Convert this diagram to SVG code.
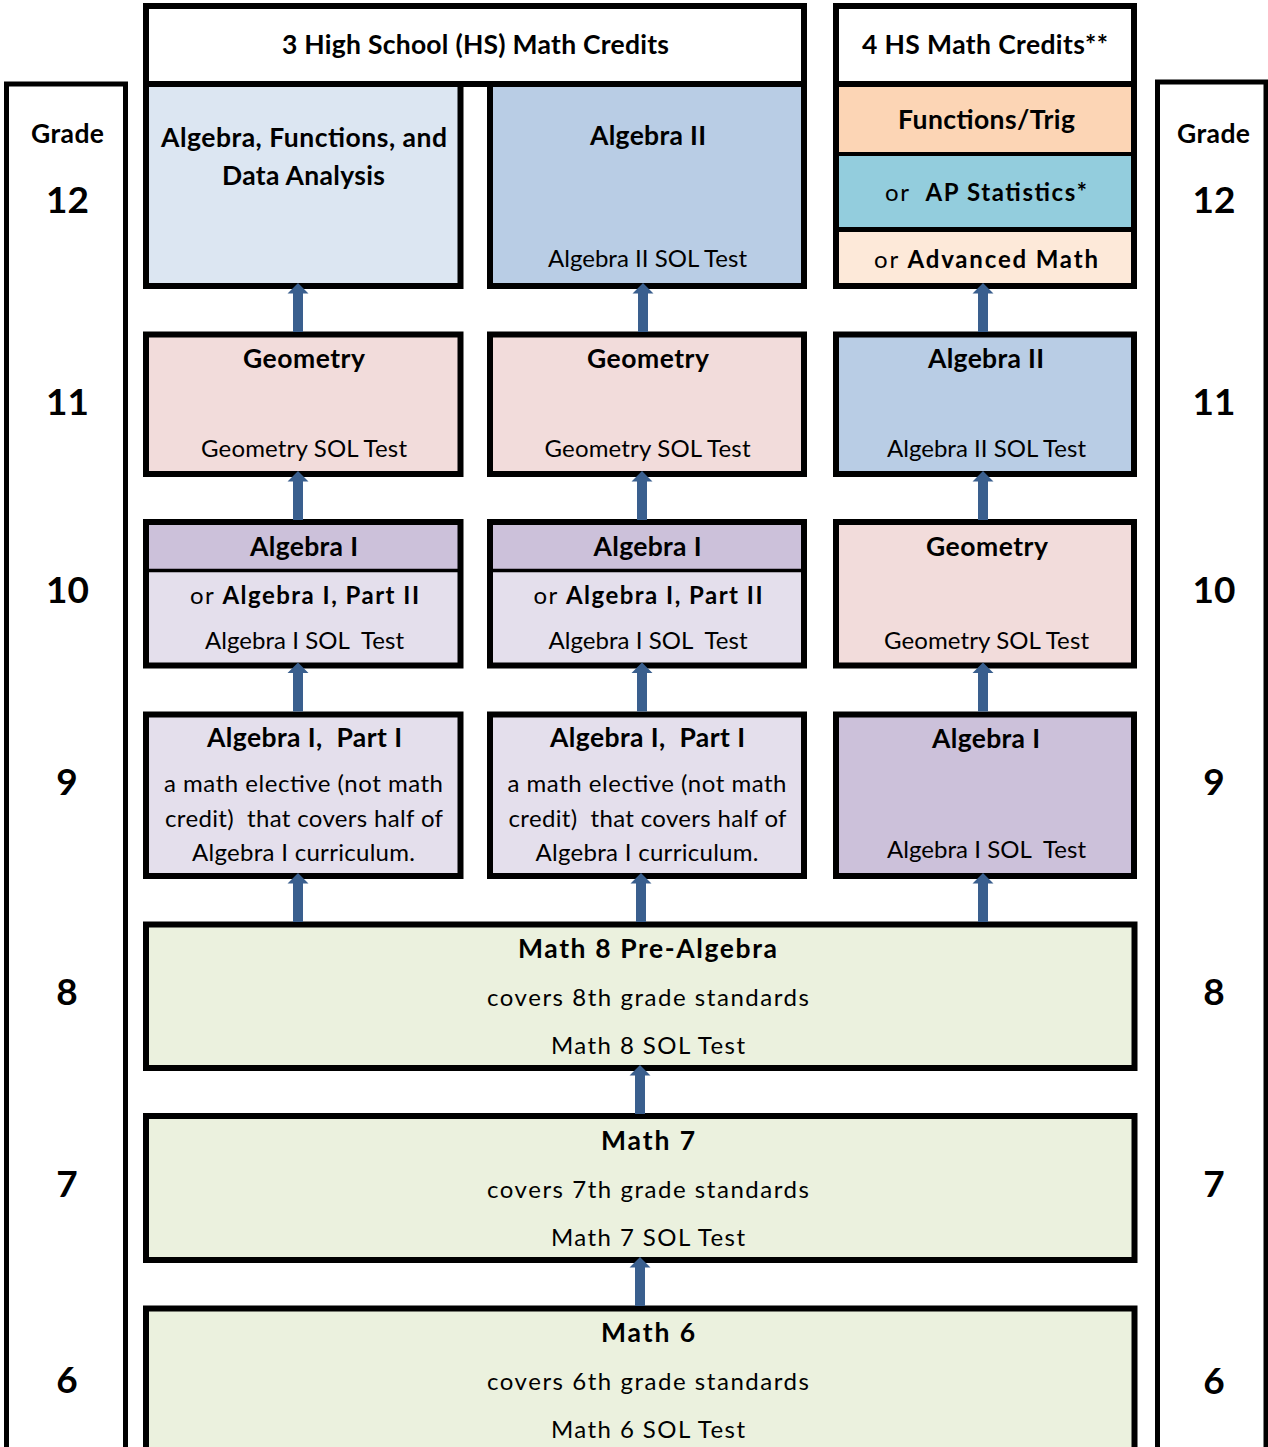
<svg xmlns="http://www.w3.org/2000/svg" xmlns:xlink="http://www.w3.org/1999/xlink" width="1268" height="1447" viewBox="0 0 1268 1447">
<style>
text{font-family:Lato,"Liberation Sans","DejaVu Sans",sans-serif;fill:#000;text-anchor:middle;white-space:pre}
.t{font-weight:700;font-size:26.5px}
.r{font-weight:400;font-size:24px}
.w{font-weight:700}
.n{font-weight:700;font-size:37px}
.box{stroke:#000;stroke-width:6}
.col{fill:none;stroke:#000;stroke-width:5}
.div{stroke:#000;fill:none}
.arrow{fill:#3A5F8E}
</style>
<defs>
<path id="arr" class="arrow" d="M0 0 L10.5 10.5 L5 10.5 L5 49 L-5 49 L-5 10.5 L-10.5 10.5 Z"/>
</defs>

<g id="grade-left">
<rect class="col" x="6.5" y="84" width="119" height="1400"/>
<text class="t" x="67.5" y="143" textLength="73">Grade</text>
<text class="n" x="67.5" y="213">12</text>
<text class="n" x="67.5" y="415">11</text>
<text class="n" x="67.5" y="603">10</text>
<text class="n" x="67" y="795">9</text>
<text class="n" x="67" y="1005">8</text>
<text class="n" x="67" y="1197">7</text>
<text class="n" x="67" y="1393">6</text>
</g>

<g id="grade-right">
<rect class="col" x="1157.5" y="82" width="108.5" height="1400"/>
<text class="t" x="1213.5" y="143" textLength="73">Grade</text>
<text class="n" x="1214" y="213">12</text>
<text class="n" x="1214" y="415">11</text>
<text class="n" x="1214" y="603">10</text>
<text class="n" x="1214" y="795">9</text>
<text class="n" x="1214" y="1005">8</text>
<text class="n" x="1214" y="1197">7</text>
<text class="n" x="1214" y="1394">6</text>
</g>

<g id="header-3credits">
<rect class="box" x="146" y="6" width="658" height="78" fill="#FFFFFF"/>
<text class="t" x="475.5" y="54" textLength="387">3 High School (HS) Math Credits</text>
</g>

<g id="header-4credits">
<rect class="box" x="836" y="6" width="298" height="78" fill="#FFFFFF"/>
<text class="t" x="985" y="54" textLength="246">4 HS Math Credits**</text>
</g>

<g id="afda">
<rect class="box" x="146" y="84" width="314.5" height="202" fill="#DCE6F2"/>
<text class="t" x="304" y="147" textLength="286">Algebra, Functions, and</text>
<text class="t" x="303.5" y="185" textLength="163">Data Analysis</text>
</g>

<g id="alg2-c2-g12">
<rect class="box" x="490" y="84" width="314" height="202" fill="#B9CDE5"/>
<text class="t" x="648" y="145" textLength="116">Algebra II</text>
<text class="r" x="647.5" y="267" textLength="199">Algebra II SOL Test</text>
</g>

<g id="g12-c3">
<rect x="836" y="84" width="298" height="70" fill="#FCD5B5"/>
<rect x="836" y="154" width="298" height="75.5" fill="#93CDDD"/>
<rect x="836" y="229.5" width="298" height="56.5" fill="#FDE9D9"/>
<line class="div" x1="836" y1="154" x2="1134" y2="154" stroke-width="4"/>
<line class="div" x1="836" y1="229.5" x2="1134" y2="229.5" stroke-width="5"/>
<rect class="box" x="836" y="84" width="298" height="202" fill="none"/>
<text class="t" x="986.5" y="129" textLength="177">Functions/Trig</text>
<text class="r" x="986" y="201" textLength="202">or  <tspan class="w">AP Statistics*</tspan></text>
<text class="r" x="986" y="268" textLength="224">or <tspan class="w">Advanced Math</tspan></text>
</g>

<g id="geom-c1-g11">
<rect class="box" x="146" y="334.5" width="314.5" height="139.5" fill="#F2DCDB"/>
<text class="t" x="304" y="368" textLength="122">Geometry</text>
<text class="r" x="304" y="457" textLength="206">Geometry SOL Test</text>
</g>

<g id="geom-c2-g11">
<rect class="box" x="490" y="334.5" width="314" height="139.5" fill="#F2DCDB"/>
<text class="t" x="648" y="368" textLength="122">Geometry</text>
<text class="r" x="647.5" y="457" textLength="206">Geometry SOL Test</text>
</g>

<g id="alg2-c3-g11">
<rect class="box" x="836" y="334.5" width="298" height="139.5" fill="#B9CDE5"/>
<text class="t" x="986" y="368" textLength="116">Algebra II</text>
<text class="r" x="986.5" y="457" textLength="199">Algebra II SOL Test</text>
</g>

<g id="alg1-c1-g10">
<rect x="146" y="522" width="314.5" height="48.5" fill="#CCC1DA"/>
<rect x="146" y="570.5" width="314.5" height="95" fill="#E4DFEC"/>
<line class="div" x1="146" y1="570.5" x2="460.5" y2="570.5" stroke-width="3.5"/>
<rect class="box" x="146" y="522" width="314.5" height="143.5" fill="none"/>
<text class="t" x="304" y="556" textLength="108">Algebra I</text>
<text class="r" x="304.5" y="604" textLength="229">or <tspan class="w">Algebra I, Part II</tspan></text>
<text class="r" x="304.5" y="649" textLength="199">Algebra I SOL  Test</text>
</g>

<g id="alg1-c2-g10">
<rect x="490" y="522" width="314" height="48.5" fill="#CCC1DA"/>
<rect x="490" y="570.5" width="314" height="95" fill="#E4DFEC"/>
<line class="div" x1="490" y1="570.5" x2="804" y2="570.5" stroke-width="3.5"/>
<rect class="box" x="490" y="522" width="314" height="143.5" fill="none"/>
<text class="t" x="647.5" y="556" textLength="108">Algebra I</text>
<text class="r" x="648" y="604" textLength="229">or <tspan class="w">Algebra I, Part II</tspan></text>
<text class="r" x="648" y="649" textLength="199">Algebra I SOL  Test</text>
</g>

<g id="geom-c3-g10">
<rect class="box" x="836" y="522" width="298" height="143.5" fill="#F2DCDB"/>
<text class="t" x="987" y="556" textLength="122">Geometry</text>
<text class="r" x="986.5" y="649" textLength="205">Geometry SOL Test</text>
</g>

<g id="alg1p1-c1-g9">
<rect class="box" x="146" y="714.5" width="314.5" height="161.5" fill="#E4DFEC"/>
<text class="t" x="304.5" y="747" textLength="195">Algebra I,  Part I</text>
<text class="r" x="303.5" y="792" textLength="279">a math elective (not math</text>
<text class="r" x="304" y="827" textLength="278">credit)  that covers half of</text>
<text class="r" x="303.5" y="861" textLength="223">Algebra I curriculum.</text>
</g>

<g id="alg1p1-c2-g9">
<rect class="box" x="490" y="714.5" width="314" height="161.5" fill="#E4DFEC"/>
<text class="t" x="647.5" y="747" textLength="195">Algebra I,  Part I</text>
<text class="r" x="647" y="792" textLength="279">a math elective (not math</text>
<text class="r" x="647.5" y="827" textLength="278">credit)  that covers half of</text>
<text class="r" x="647" y="861" textLength="223">Algebra I curriculum.</text>
</g>

<g id="alg1-c3-g9">
<rect class="box" x="836" y="714.5" width="298" height="161.5" fill="#CCC1DA"/>
<text class="t" x="986" y="748" textLength="108">Algebra I</text>
<text class="r" x="986.5" y="858" textLength="199">Algebra I SOL  Test</text>
</g>

<g id="math8">
<rect class="box" x="146" y="924.5" width="988.5" height="143.5" fill="#EBF1DE"/>
<text class="t" x="647.5" y="958" textLength="259">Math 8 Pre-Algebra</text>
<text class="r" x="648" y="1006" textLength="322">covers 8th grade standards</text>
<text class="r" x="648" y="1054" textLength="194">Math 8 SOL Test</text>
</g>

<g id="math7">
<rect class="box" x="146" y="1116" width="988.5" height="144" fill="#EBF1DE"/>
<text class="t" x="648" y="1150" textLength="94">Math 7</text>
<text class="r" x="648" y="1198" textLength="322">covers 7th grade standards</text>
<text class="r" x="648" y="1246" textLength="194">Math 7 SOL Test</text>
</g>

<g id="math6">
<rect class="box" x="146" y="1308.5" width="988.5" height="170" fill="#EBF1DE"/>
<text class="t" x="648" y="1342" textLength="94">Math 6</text>
<text class="r" x="648" y="1390" textLength="322">covers 6th grade standards</text>
<text class="r" x="648" y="1438" textLength="194">Math 6 SOL Test</text>
</g>

<g id="connectors">
<use xlink:href="#arr" x="298" y="283"/>
<use xlink:href="#arr" x="643" y="283"/>
<use xlink:href="#arr" x="983" y="283"/>
<use xlink:href="#arr" x="298" y="471"/>
<use xlink:href="#arr" x="642" y="471"/>
<use xlink:href="#arr" x="983" y="471"/>
<use xlink:href="#arr" x="298" y="662.5"/>
<use xlink:href="#arr" x="642" y="662.5"/>
<use xlink:href="#arr" x="983" y="662.5"/>
<use xlink:href="#arr" x="298" y="873"/>
<use xlink:href="#arr" x="641" y="873"/>
<use xlink:href="#arr" x="983" y="873"/>
<use xlink:href="#arr" x="640" y="1065"/>
<use xlink:href="#arr" x="640" y="1257"/>
</g>
</svg>
